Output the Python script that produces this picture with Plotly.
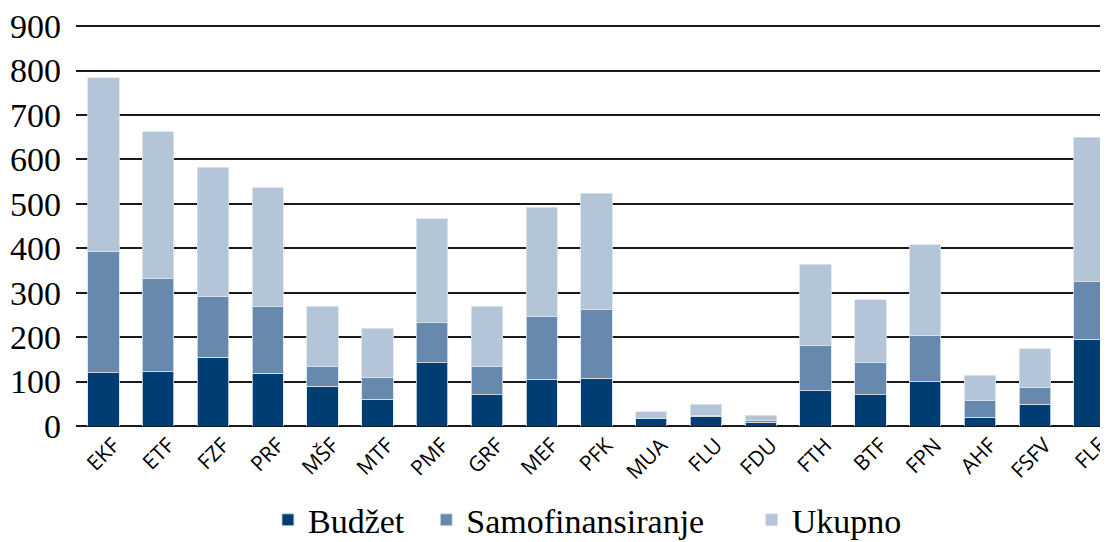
import plotly.graph_objects as go

categories = ["EKF", "ETF", "FZF", "PRF", "MŠF", "MTF", "PMF", "GRF", "MEF", "PFK",
              "MUA", "FLU", "FDU", "FTH", "BTF", "FPN", "AHF", "FSFV", "FLF"]
budzet = [120, 122, 155, 119, 90, 60, 142, 70, 105, 107, 16, 22, 9, 79, 70, 100, 20, 49, 195]
samofinansiranje = [272, 209, 136, 149, 45, 50, 91, 65, 141, 155, 0, 2, 3, 103, 72, 104, 37, 38, 130]
ukupno = [392, 331, 291, 268, 135, 110, 233, 135, 246, 262, 16, 25, 12, 182, 142, 204, 57, 87, 325]
y_ticks = [0, 100, 200, 300, 400, 500, 600, 700, 800, 900]

NB = "\u00a0"
series = [
    ("Budžet" + NB * 2, budzet, "#003d73"),
    ("Samofinansiranje" + NB * 5, samofinansiranje, "#6789ad"),
    ("Ukupno", ukupno, "#b3c5d6"),
]

fig = go.Figure()
for name, vals, color in series:
    fig.add_trace(go.Bar(
        x=categories, y=vals, name=name,
        marker=dict(color=color, line=dict(color="#dce5ee", width=0.8)),
    ))

fig.update_layout(
    width=1108, height=542,
    barmode="stack", bargap=0.427,
    plot_bgcolor="white", paper_bgcolor="white",
    margin=dict(l=68, r=8, t=17, b=124, autoexpand=False),
    showlegend=True,
    legend=dict(orientation="h", x=0.186, xanchor="left", y=-0.235, yanchor="middle",
                font=dict(family="Liberation Serif", size=34, color="black"),
                traceorder="normal"),
    xaxis=dict(range=[-0.5, 18.336], tickangle=-45, showgrid=False, automargin=False,
               tickfont=dict(family="Open Sans", size=21, color="black"),
               showline=False, ticks="", ticklabelshift=10, ticklabelstandoff=2),
    yaxis=dict(range=[0, 902.5], tickvals=y_ticks, showgrid=True, gridcolor="#1a1a1a",
               gridwidth=1.5, zeroline=True, zerolinecolor="#1a1a1a", zerolinewidth=1.5,
               automargin=False,
               tickfont=dict(family="Liberation Serif", size=34, color="black"),
               ticks="", ticklabelstandoff=14),
)

fig.write_html("out.html")
